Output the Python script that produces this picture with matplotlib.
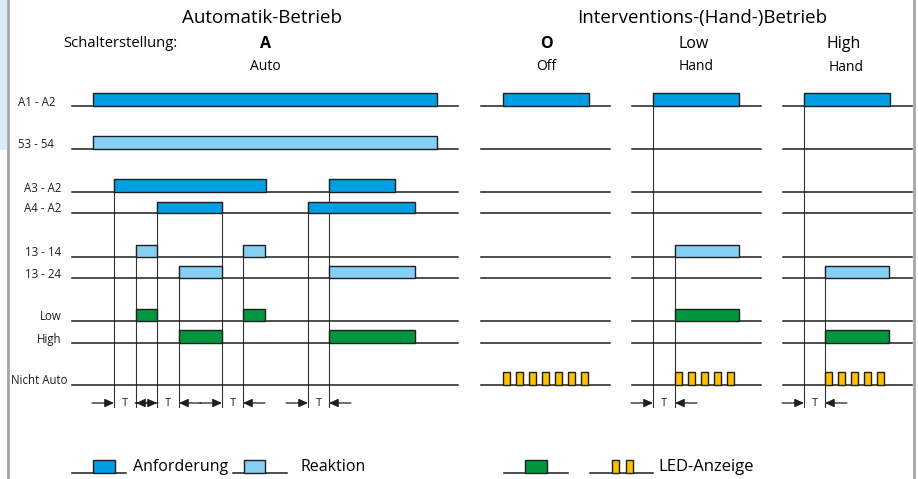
#%% timing diagram: Automatik-Betrieb / Interventions-(Hand-)Betrieb
import matplotlib
matplotlib.use('Agg')
import matplotlib.pyplot as plt
from matplotlib.patches import Rectangle

plt.rcParams['font.family'] = ['Open Sans', 'DejaVu Sans']

#%% DATA  (switching times, on the common time axis)
row_labels = ['A1 - A2', '53 - 54', 'A3 - A2', 'A4 - A2', '13 - 14', '13 - 24',
              'Low', 'High', 'Nicht Auto']

# Automatik-Betrieb, (on, off)
auto_a1a2 = [(93, 437)]
auto_5354 = [(93, 437)]
auto_a3a2 = [(114, 266), (329, 395)]
auto_a4a2 = [(157, 222), (308, 415)]
auto_1314 = [(136, 157), (243, 265)]
auto_1324 = [(179, 222), (329, 415)]
auto_low = [(136, 157), (243, 265)]
auto_high = [(179, 222), (329, 415)]
auto_delays = [(114, 136), (157, 179), (222, 243), (308, 329)]

# O / Off
off_a1a2 = [(503, 589)]
off_led = [503, 516, 529, 542, 555, 568, 581]

# Low / Hand
low_a1a2 = [(653, 739)]
low_1314 = [(675, 739)]
low_low = [(675, 739)]
low_led = [675, 688, 701, 714, 727]
low_delays = [(653, 675)]

# High / Hand
high_a1a2 = [(804, 890)]
high_1324 = [(825, 889)]
high_high = [(825, 889)]
high_led = [825, 838, 851, 864, 877]
high_delays = [(804, 825)]

#%% LAYOUT / STYLE
W, H = 918, 479
row_y = [106, 149, 192, 213, 257, 278, 321, 343, 385]
bar_h = [13, 13, 13, 11, 12, 12, 12, 13]
panels = [(72, 458), (481, 610), (632, 761), (783, 912)]

c_req = '#009fe3'
c_resp = '#84cff3'
c_green = '#00963f'
c_led = '#fcc000'
c_line = '#1e1e1e'

fig = plt.figure(figsize=(W / 100, H / 100), dpi=100)
ax = fig.add_axes([0, 0, 1, 1])
ax.set_xlim(0, W)
ax.set_ylim(H, 0)
ax.axis('off')


def bar(t0, t1, base, h, color):
    ax.add_patch(Rectangle((t0, base - h), t1 - t0, h, facecolor=color,
                           edgecolor=c_line, lw=1.0, zorder=3))


def pulses(starts, base, color=c_led, w=7, h=13):
    for s in starts:
        bar(s, s + w, base, h, color)


def baseline(x0, x1, y):
    ax.plot([x0, x1], [y, y], color=c_line, lw=1.1, zorder=2)


def arrow(x_from, x_to, y):
    ax.annotate('', xy=(x_to, y), xytext=(x_from, y),
                arrowprops=dict(arrowstyle='-|>,head_length=0.55,head_width=0.25',
                                color=c_line, lw=0.9, mutation_scale=10,
                                shrinkA=0, shrinkB=0))


def delay_marks(delays, y=403):
    for a, b in delays:
        arrow(a - 22, a, y)
        arrow(b + 22, b, y)
        ax.text((a + b) / 2, y + 1, 'T', ha='center', va='center', fontsize=8,
                color=c_line)


def guides(delays, rows):
    # thin vertical lines from the first bar edge down past the T marks
    for pair in delays:
        for x in pair:
            top = None
            for i, sig in enumerate(rows):
                for t0, t1 in sig:
                    if abs(t0 - x) < 1.5 or abs(t1 - x) < 1.5:
                        top = row_y[i] - bar_h[i]
                        break
                if top is not None:
                    break
            ax.plot([x, x], [top, 407], color='#333333', lw=0.8, zorder=1)


# frame of the page
ax.add_patch(Rectangle((0, 0), 7, 150, facecolor='#d9eaf8', edgecolor='none'))
ax.plot([8, 8], [0, H], color='#a6a6a6', lw=2)
ax.plot([914, 914], [0, H], color='#a6a6a6', lw=2)

# baselines
for x0, x1 in panels:
    for y in row_y:
        baseline(x0, x1, y)

# Automatik-Betrieb
auto_rows = [auto_a1a2, auto_5354, auto_a3a2, auto_a4a2, auto_1314, auto_1324,
             auto_low, auto_high]
auto_cols = [c_req, c_resp, c_req, c_req, c_resp, c_resp, c_green, c_green]
for i, sig in enumerate(auto_rows):
    for t0, t1 in sig:
        bar(t0, t1, row_y[i], bar_h[i], auto_cols[i])
guides(auto_delays, auto_rows)
delay_marks(auto_delays)

# O / Off
for t0, t1 in off_a1a2:
    bar(t0, t1, row_y[0], bar_h[0], c_req)
pulses(off_led, row_y[8])

# Low / Hand
low_rows = [low_a1a2, [], [], [], low_1314, [], low_low, []]
for i, sig in enumerate(low_rows):
    for t0, t1 in sig:
        bar(t0, t1, row_y[i], bar_h[i], auto_cols[i])
pulses(low_led, row_y[8])
guides(low_delays, low_rows)
delay_marks(low_delays)

# High / Hand
high_rows = [high_a1a2, [], [], [], [], high_1324, [], high_high]
for i, sig in enumerate(high_rows):
    for t0, t1 in sig:
        bar(t0, t1, row_y[i], bar_h[i], auto_cols[i])
pulses(high_led, row_y[8])
guides(high_delays, high_rows)
delay_marks(high_delays)

# row labels
label_x = [18, 18, 24, 24, 25, 25, 62, 62, 11]
label_ha = ['left', 'left', 'left', 'left', 'left', 'left', 'right', 'right', 'left']
for lab, x, ha, y in zip(row_labels, label_x, label_ha, row_y):
    ax.text(x, y - 4, lab, ha=ha, va='center', fontsize=8.3, color=c_line)

# headings
ax.text(262, 18, 'Automatik-Betrieb', ha='center', va='center', fontsize=13.5)
ax.text(702, 18, 'Interventions-(Hand-)Betrieb', ha='center', va='center', fontsize=13.5)
ax.text(63, 43, 'Schalterstellung:', ha='left', va='center', fontsize=10.6)
ax.text(265, 44, 'A', ha='center', va='center', fontsize=11.5, fontweight='bold')
ax.text(265, 66, 'Auto', ha='center', va='center', fontsize=10)
ax.text(546, 44, 'O', ha='center', va='center', fontsize=11.5, fontweight='bold')
ax.text(546, 66, 'Off', ha='center', va='center', fontsize=10)
ax.text(694, 44, 'Low', ha='center', va='center', fontsize=11.5)
ax.text(696, 66, 'Hand', ha='center', va='center', fontsize=10)
ax.text(844, 44, 'High', ha='center', va='center', fontsize=11.5)
ax.text(846, 67, 'Hand', ha='center', va='center', fontsize=10)

# legend
ly = 473
baseline(72, 126, ly)
bar(93, 115, ly, 13, c_req)
ax.text(133, ly - 6, 'Anforderung', ha='left', va='center', fontsize=11.5)
baseline(233, 287, ly)
bar(244, 265, ly, 13, c_resp)
ax.text(300, ly - 6, 'Reaktion', ha='left', va='center', fontsize=11.5)
baseline(504, 568, ly)
bar(525, 547, ly, 13, c_green)
baseline(590, 653, ly)
pulses([612, 626], ly)
ax.text(658, ly - 6, 'LED-Anzeige', ha='left', va='center', fontsize=12)

fig.savefig('out.png', dpi=100)
